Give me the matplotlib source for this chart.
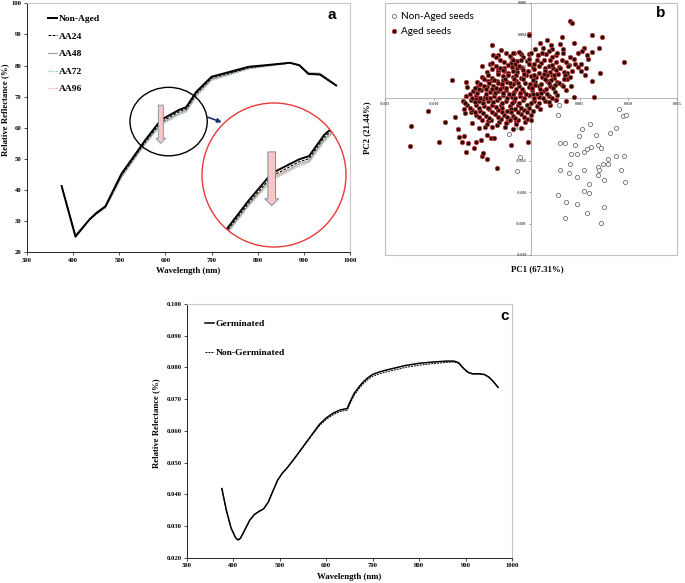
import numpy as np
import matplotlib.pyplot as plt
from matplotlib.patches import Ellipse, Circle, Rectangle
from matplotlib.ticker import FormatStrFormatter

plt.rcParams['font.family'] = ['Liberation Serif', 'DejaVu Serif']
plt.rcParams['font.weight'] = 'bold'

# ---------- panel a : mean spectra per ageing level ----------
wl_a = [375, 405, 435, 450, 470, 505, 530, 555, 590, 630, 645, 667, 700, 740, 780, 830, 870, 890, 910, 935, 970]
non_aged = [41.3, 25.0, 30.5, 32.6, 34.8, 45.3, 50.5, 55.8, 62.5, 65.8, 66.6, 71.6, 76.4, 78.0, 79.6, 80.3, 80.9, 80.1, 77.3, 77.1, 73.6]
aa24 = [41.3, 25.3, 30.4, 32.4, 34.6, 44.8, 50.0, 55.2, 61.8, 65.2, 66.0, 71.0, 76.0, 77.6, 79.3, 80.2, 80.8, 80.1, 77.4, 77.2, 73.6]
aa48 = [41.3, 25.5, 30.4, 32.3, 34.4, 44.4, 49.6, 54.8, 61.3, 64.7, 65.5, 70.5, 75.6, 77.3, 79.1, 80.1, 80.8, 80.2, 77.6, 77.4, 73.7]
aa72 = [41.2, 25.6, 30.3, 32.1, 34.2, 44.0, 49.2, 54.4, 60.8, 64.2, 65.0, 70.0, 75.2, 77.0, 78.9, 80.0, 80.8, 80.3, 77.8, 77.6, 73.8]
aa96 = [41.2, 25.8, 30.5, 32.3, 34.3, 44.2, 49.4, 54.6, 61.0, 64.4, 65.2, 70.2, 75.4, 77.2, 79.0, 80.0, 80.8, 80.2, 77.7, 77.5, 73.7]
series_a = [('Non-Aged', non_aged), ('AA24', aa24), ('AA48', aa48), ('AA72', aa72), ('AA96', aa96)]

# ---------- panel b : PCA scores (units of 1e-3) ----------
non_aged_pc = [
    (2.88, -0.47), (2.74, -1.13), (9.08, -0.75), (9.49, -1.17), (9.80, -1.11), (6.06, -1.66), (5.21, -2.00),
    (8.73, -1.94), (8.15, -2.25), (4.97, -2.46), (6.68, -2.36), (2.98, -2.89), (3.46, -2.89), (4.56, -2.99),
    (6.85, -3.04), (7.19, -3.20), (6.13, -3.16), (5.75, -3.29), (5.41, -3.44), (4.14, -3.61), (4.69, -3.59),
    (8.77, -3.69), (9.59, -3.71), (7.95, -3.92), (7.40, -4.22), (7.91, -4.20), (4.01, -4.24), (6.88, -4.43),
    (6.99, -4.58), (2.95, -4.62), (5.45, -4.58), (9.25, -4.62), (3.94, -4.77), (4.76, -5.03), (6.85, -4.92),
    (7.47, -5.24), (9.62, -5.34), (5.99, -5.49), (5.41, -5.93), (5.99, -6.08), (2.81, -6.21), (3.56, -6.63),
    (4.69, -6.74), (7.47, -6.95), (5.75, -7.35), (3.53, -7.63), (7.19, -7.97), (-2.22, -2.34), (-1.16, -3.80),
    (-1.47, -4.64)]

aged_pc = [
    # outer points
    (-0.17, 4.01), (-3.97, 3.33), (-3.94, 2.70), (-3.35, 2.70), (-1.75, 2.85), (-1.06, 2.76), (-4.18, 2.11),
    (-5.07, 2.00), (-2.05, 2.17), (-1.47, 2.34), (-3.35, 1.75), (-2.77, 1.70), (-8.15, 1.11), (-6.71, 1.01),
    (-6.61, 0.69), (-5.58, 0.69), (-3.97, 1.11), (-3.49, 1.07), (-4.55, 0.69), (-3.70, 0.48), (-5.62, -0.12),
    (-5.20, -0.05), (-4.90, -0.10),
    (4.01, 4.88), (4.21, 4.71), (-0.20, 3.97), (3.15, 3.86), (6.27, 3.95), (7.26, 3.86), (1.61, 3.65),
    (4.42, 3.44), (0.93, 3.44), (2.06, 3.33), (2.98, 3.37), (6.95, 3.16), (1.23, 3.12), (2.19, 3.06),
    (5.48, 3.12), (5.21, 2.97), (6.23, 2.91), (4.86, 2.85), (3.25, 2.80), (1.51, 2.76), (5.72, 2.70),
    (0.75, 2.70), (2.57, 2.70), (4.38, 2.42), (5.86, 2.42), (9.52, 2.28), (3.60, 2.28), (3.91, 2.06),
    (5.10, 2.13), (2.88, 1.96), (2.30, 1.85), (5.65, 1.85), (5.14, 1.70), (7.09, 1.54), (5.55, 1.43),
    (3.67, 1.54), (2.12, 1.43), (1.44, 1.64), (3.67, 1.18), (6.23, 1.05), (2.64, 1.01), (3.15, 0.79),
    (4.11, 0.73), (2.12, 0.65), (3.56, 0.48), (2.71, 0.16), (3.60, -0.20), (6.44, 0.01), (4.45, 0.05),
    (-12.36, -1.79), (-12.43, -3.08), (-10.55, -0.86), (-9.45, -2.80), (-8.84, -1.53), (-7.81, -1.21),
    (-7.47, -2.02), (-7.40, -2.49), (-6.85, -2.42), (-7.12, -2.85), (-6.68, -3.44), (-6.44, -2.87),
    (-6.78, -1.00), (-6.85, -0.73), (-6.16, -0.90), (-6.03, -1.64), (-5.82, -3.18), (-5.65, -2.85),
    (-5.34, -1.96), (-5.14, -2.70), (-5.07, -3.69), (-4.90, -3.54), (-4.55, -3.90), (-4.52, -2.38),
    (-4.11, -2.55), (-3.77, -2.59), (-4.73, -1.85), (-4.38, -1.49), (-4.04, -1.85), (-3.53, -4.45),
    (-2.05, -3.02), (-0.34, -2.80), (-2.67, -1.89), (-1.81, -2.00), (-1.03, -1.91), (-3.25, -1.58),
    (-2.50, -1.53), (-2.26, -1.36), (-1.57, -1.49), (-0.62, -1.53), (-0.03, -1.45),
    # dense core
    (-3.1, 3.0), (-1.2, 2.9), (0.4, 3.1), (1.8, 2.95), (3.3, 3.05),
    (-3.6, 2.6), (-2.2, 2.65), (-0.8, 2.55), (0.7, 2.7), (2.2, 2.6), (4.0, 2.55),
    (-4.0, 2.2), (-2.8, 2.25), (-1.6, 2.15), (-0.4, 2.3), (1.0, 2.2), (2.6, 2.25), (4.5, 2.15),
    (-3.2, 1.9), (-2.0, 1.95), (-0.9, 1.85), (0.2, 1.95), (1.4, 1.9), (3.0, 1.85), (4.8, 1.95),
    (-4.5, 1.6), (-3.4, 1.65), (-2.4, 1.55), (-1.4, 1.6), (-0.3, 1.7), (0.8, 1.55), (2.0, 1.65), (3.4, 1.6),
    (-5.0, 1.3), (-4.0, 1.25), (-2.9, 1.35), (-1.9, 1.3), (-1.0, 1.25), (0.0, 1.35), (1.1, 1.3), (2.4, 1.25), (4.0, 1.3),
    (-5.5, 1.0), (-4.4, 1.05), (-3.4, 0.95), (-2.5, 1.0), (-1.5, 1.05), (-0.6, 0.95), (0.4, 1.0), (1.6, 1.05), (2.9, 0.95),
    (-4.8, 0.7), (-3.9, 0.75), (-3.0, 0.65), (-2.1, 0.7), (-1.2, 0.75), (-0.2, 0.65), (0.8, 0.7), (2.0, 0.75), (3.3, 0.7),
    (-6.0, 0.4), (-5.1, 0.45), (-4.2, 0.35), (-3.4, 0.4), (-2.6, 0.45), (-1.7, 0.35), (-0.8, 0.4), (0.1, 0.45), (1.2, 0.4), (2.5, 0.35),
    (-6.7, 0.1), (-5.7, 0.15), (-4.7, 0.05), (-3.8, 0.1), (-2.9, 0.15), (-2.0, 0.05), (-1.1, 0.1), (-0.2, 0.15), (0.8, 0.05), (1.8, 0.1),
    (-7.0, -0.2), (-6.2, -0.15), (-5.3, -0.25), (-4.4, -0.2), (-3.5, -0.15), (-2.6, -0.25), (-1.7, -0.2), (-0.8, -0.15), (0.3, -0.25), (1.4, -0.2), (2.6, -0.15),
    (-6.6, -0.5), (-5.7, -0.45), (-4.8, -0.55), (-4.0, -0.5), (-3.1, -0.45), (-2.2, -0.55), (-1.3, -0.5), (-0.4, -0.45), (0.6, -0.55), (2.0, -0.5),
    (-6.1, -0.8), (-5.2, -0.85), (-4.3, -0.75), (-3.4, -0.8), (-2.5, -0.85), (-1.6, -0.75), (-0.7, -0.8), (0.2, -0.85),
    (-5.6, -1.1), (-4.6, -1.15), (-3.7, -1.05), (-2.8, -1.1), (-1.9, -1.15), (-1.0, -1.05), (0.0, -1.1),
    (-5.0, -1.4), (-4.1, -1.45), (-3.1, -1.35), (-2.2, -1.4), (-1.3, -1.45), (-0.4, -1.35),
    (-4.5, -1.7), (-3.5, -1.75), (-2.6, -1.65), (-1.5, -1.7),
    (-2.6, 2.8), (-0.2, 2.75), (1.3, 2.4), (-1.0, 2.4), (0.3, 2.1), (-2.0, 2.45), (1.8, 2.0), (-0.5, 1.4),
    (0.5, 1.3), (-1.4, 1.9), (-2.8, 1.85), (1.6, 1.45), (2.8, 1.5), (-0.1, 0.85), (1.0, 0.85), (-1.9, 0.85),
    (-2.9, 1.1), (0.6, 0.25), (-0.5, 0.25), (-1.5, 0.55), (-2.3, 0.25), (-3.2, 0.55), (-4.0, 0.55), (1.5, 0.55),
    (-3.0, -0.65), (-2.0, -0.35), (-1.0, -0.65), (0.0, -0.35), (-4.5, -0.05), (-5.3, 0.55),
    (-1.9, 2.8), (0.0, 2.85), (1.1, 2.8), (2.7, 2.85),
    (-3.2, 2.4), (-1.8, 2.35), (-0.2, 2.45), (0.6, 2.4), (2.0, 2.35), (3.2, 2.4),
    (-3.6, 2.0), (-2.4, 2.05), (-1.2, 2.0), (-0.2, 2.1), (0.8, 2.0), (2.2, 2.05), (3.8, 2.0),
    (-4.0, 1.8), (-2.9, 1.75), (-1.9, 1.7), (-0.8, 1.75), (0.3, 1.8), (1.4, 1.7), (2.6, 1.75), (4.2, 1.7),
    (-4.4, 1.45), (-3.4, 1.5), (-2.4, 1.4), (-1.5, 1.45), (-0.7, 1.5), (0.3, 1.45), (1.3, 1.5), (2.4, 1.45), (3.5, 1.4),
    (-4.8, 1.15), (-3.8, 1.1), (-2.7, 1.2), (-1.7, 1.15), (-0.8, 1.15), (0.2, 1.1), (1.4, 1.15), (2.1, 1.1), (3.4, 1.15),
    (-5.2, 0.85), (-4.3, 0.9), (-3.0, 0.85), (-2.2, 0.9), (-1.3, 0.9), (0.4, 0.8), (1.8, 0.9), (2.5, 0.8),
    (-5.8, 0.6), (-4.6, 0.55), (-3.6, 0.6), (-2.6, 0.6), (-0.9, 0.55), (0.1, 0.6), (0.9, 0.55), (2.3, 0.6),
    (-6.3, 0.25), (-5.5, 0.3), (-4.6, 0.25), (-3.7, 0.3), (-2.9, 0.3), (-1.8, 0.2), (-1.1, 0.3), (0.2, 0.25), (1.0, 0.3), (1.6, 0.25),
    (-6.1, 0.0), (-5.2, -0.05), (-4.2, 0.0), (-3.3, -0.05), (-2.5, 0.0), (-1.6, -0.05), (-0.7, 0.0), (0.3, -0.05), (1.2, 0.0), (2.2, 0.0),
    (-6.8, -0.35), (-5.8, -0.3), (-4.9, -0.35), (-3.9, -0.3), (-3.0, -0.35), (-1.2, -0.35), (0.8, -0.35), (1.8, -0.3),
    (-6.3, -0.65), (-5.3, -0.65), (-4.4, -0.65), (-3.6, -0.6), (-2.1, -0.7), (-0.2, -0.65), (0.9, -0.7),
    (-5.8, -0.95), (-4.9, -1.0), (-4.0, -0.95), (-3.0, -0.95), (-2.1, -0.95), (-1.3, -0.9), (-0.4, -0.95),
    (-5.3, -1.25), (-4.3, -1.3), (-3.4, -1.25), (-2.5, -1.25), (-1.6, -1.3), (-0.7, -1.25)]

# ---------- panel c : germinated vs non-germinated ----------
wl_c = [375, 385, 395, 405, 410, 415, 425, 435, 445, 455, 465, 475, 485, 495, 505, 515, 530, 550, 570,
        585, 600, 615, 630, 640, 645, 650, 660, 670, 680, 690, 700, 715, 730, 750, 770, 800, 830, 860,
        875, 885, 895, 905, 915, 930, 940, 950, 960, 970]
germ = [0.0418, 0.0348, 0.0293, 0.0262, 0.0256, 0.0261, 0.0289, 0.0318, 0.0336, 0.0346, 0.0354, 0.0375,
        0.0410, 0.0444, 0.0466, 0.0482, 0.0510, 0.0550, 0.0590,
        0.0620, 0.0641, 0.0656, 0.0666, 0.0669, 0.0670, 0.0688, 0.0718, 0.0738, 0.0755, 0.0768, 0.0778,
        0.0786, 0.0792, 0.0799, 0.0806, 0.0813, 0.0817, 0.0820, 0.0820, 0.0815, 0.0798, 0.0785, 0.0780,
        0.0780, 0.0778, 0.0770, 0.0755, 0.0737]
non_germ = [0.0418, 0.0348, 0.0293, 0.0262, 0.0256, 0.0261, 0.0289, 0.0318, 0.0336, 0.0346, 0.0354, 0.0375,
            0.0410, 0.0444, 0.0466, 0.0482, 0.0510, 0.0549, 0.0588,
            0.0616, 0.0636, 0.0651, 0.0661, 0.0664, 0.0665, 0.0682, 0.0712, 0.0732, 0.0749, 0.0762, 0.0772,
            0.0780, 0.0786, 0.0793, 0.0800, 0.0807, 0.0812, 0.0816, 0.0817, 0.0813, 0.0797, 0.0784, 0.0779,
            0.0779, 0.0777, 0.0769, 0.0755, 0.0737]

W, H = 685, 583
fig = plt.figure(figsize=(W / 100, H / 100), dpi=100)


def box(l, t, r, b):
    return [l / W, 1 - b / H, (r - l) / W, (b - t) / H]


def excel_spines(ax):
    for s in ['left', 'bottom']:
        ax.spines[s].set_linewidth(0.6)
    for s in ['top', 'right']:
        ax.spines[s].set_color('#c8c8c8')
        ax.spines[s].set_linewidth(0.8)
    ax.tick_params(labelsize=4.8, length=2, width=0.5, direction='out', pad=2)


a_styles = {
    'Non-Aged': dict(color='black', lw=1.4, ls='-'),
    'AA24': dict(color='black', lw=0.8, ls=(0, (2.5, 1.2))),
    'AA48': dict(color='#a0a0a0', lw=0.8, ls='-'),
    'AA72': dict(color='#7fd0a0', lw=0.9, ls=(0, (1, 1))),
    'AA96': dict(color='#f0a8a0', lw=0.9, ls=(0, (1, 1))),
}

# panel a
ax_a = fig.add_axes(box(27, 3.3, 350, 252.3))
for name, vals in series_a[::-1]:
    ax_a.plot(wl_a, vals, label=name, **a_styles[name])
ax_a.set_xlim(300, 1000)
ax_a.set_ylim(20, 100)
ax_a.set_xticks(range(300, 1001, 100))
ax_a.set_yticks(range(20, 101, 10))
excel_spines(ax_a)
h, l = ax_a.get_legend_handles_labels()
ax_a.legend(h[::-1], l[::-1], loc='upper left', bbox_to_anchor=(0.065, 0.955), frameon=False,
            handlelength=1.0, handletextpad=0.15, labelspacing=0.95, borderpad=0, borderaxespad=0,
            prop=dict(family='Liberation Serif', weight='bold', size=6.8))
ax_a.add_patch(Ellipse((606.9, 62.0), 167.4, 22.0, fill=False, ec='black', lw=1.0, zorder=4))
ax_a.annotate('', xy=(590, 55), xytext=(590, 67.3),
              arrowprops=dict(arrowstyle='simple,head_length=0.45,head_width=0.9,tail_width=0.45',
                              mutation_scale=8, fc='#f7c6c7', ec='#7a8fa8', lw=0.6, shrinkA=0, shrinkB=0),
              zorder=5)
ax_a.annotate('', xy=(722, 61.8), xytext=(692, 63.4),
              arrowprops=dict(arrowstyle='-|>', color='#1f2f6b', lw=1.2, mutation_scale=6,
                              shrinkA=0, shrinkB=0))
fig.text(332 / W, 1 - 15 / H, 'a', family='Liberation Sans', weight='bold', size=11, ha='center', va='center')
fig.text(5 / W, 1 - 110 / H, 'Relative Reflectance (%)', rotation=90, size=6.3, ha='center', va='center')
fig.text(188 / W, 1 - 270.7 / H, 'Wavelength (nm)', size=6.3, ha='center', va='center')

# zoom circle
ax_in = fig.add_axes(box(202, 103, 346, 247))
ax_in.set_xlim(487.5, 699.3)
ax_in.set_ylim(44.95, 79.24)
ax_in.axis('off')
disk = Circle((0.5, 0.5), 0.5, transform=ax_in.transAxes, fc='white', ec='none', zorder=0)
ax_in.add_patch(disk)
for name, vals in series_a[::-1]:
    ln, = ax_in.plot(wl_a, vals, zorder=2, **a_styles[name])
    ln.set_clip_path(disk)
ax_in.add_patch(Circle((0.5, 0.5), 0.5, transform=ax_in.transAxes, fill=False, ec='#e83a3a', lw=1.0,
                       zorder=6, clip_on=False))
ax_in.annotate('', xy=(590, 54.8), xytext=(590, 67.6),
               arrowprops=dict(arrowstyle='simple,head_length=0.45,head_width=0.9,tail_width=0.5',
                               mutation_scale=11, fc='#f7c6c7', ec='#7a8fa8', lw=0.7, shrinkA=0, shrinkB=0),
               zorder=5)

# panel b
ax_b = fig.add_axes(box(385, 3, 677, 255))
nx = [p[0] * 1e-3 for p in non_aged_pc]
ny = [p[1] * 1e-3 for p in non_aged_pc]
gx = [p[0] * 1e-3 for p in aged_pc]
gy = [p[1] * 1e-3 for p in aged_pc]
ax_b.scatter(nx, ny, s=9, facecolors='white', edgecolors='#555555', linewidths=0.5, zorder=3,
             label='Non-Aged seeds')
ax_b.scatter(gx, gy, s=10, facecolors='#2a0808', edgecolors='#b5403a', linewidths=0.6, zorder=3,
             label='Aged seeds')
ax_b.set_xlim(-0.015, 0.015)
ax_b.set_ylim(-0.010, 0.006)
ax_b.spines['left'].set_position(('data', 0))
ax_b.spines['bottom'].set_position(('data', 0))
ax_b.spines['top'].set_visible(False)
ax_b.spines['right'].set_visible(False)
for s in ['left', 'bottom']:
    ax_b.spines[s].set_color('#b8b8b8')
    ax_b.spines[s].set_linewidth(0.7)
ax_b.add_patch(Rectangle((0, 0), 1, 1, transform=ax_b.transAxes, fill=False, ec='#c0c0c0', lw=0.8,
                         clip_on=False))
ax_b.set_xticks([-0.015, -0.010, -0.005, 0.005, 0.010, 0.015])
ax_b.set_yticks([-0.010, -0.008, -0.006, -0.004, -0.002, 0.002, 0.004, 0.006])
ax_b.xaxis.set_major_formatter(FormatStrFormatter('%.3f'))
ax_b.yaxis.set_major_formatter(FormatStrFormatter('%.3f'))
ax_b.tick_params(labelsize=3, colors='#505050', length=1.5, width=0.4, pad=1.5)
ax_b.legend(loc='upper left', bbox_to_anchor=(0.02, 0.965), frameon=False, handlelength=0.6,
            handletextpad=0.4, labelspacing=0.6, borderpad=0, borderaxespad=0,
            prop=dict(family='Lato', weight='normal', size=7.2))
fig.text(661 / W, 1 - 13 / H, 'b', family='Liberation Sans', weight='bold', size=11, ha='center', va='center')
fig.text(537 / W, 1 - 269 / H, 'PC1 (67.31%)', size=6.3, ha='center', va='center')
fig.text(367 / W, 1 - 128 / H, 'PC2 (21.44%)', size=6.3, rotation=90, ha='center', va='center')

# panel c
ax_c = fig.add_axes(box(187, 304, 512, 557.7))
ax_c.plot(wl_c, germ, color='black', lw=1.1, label='Germinated')
ax_c.plot(wl_c, non_germ, color='black', lw=0.7, ls=(0, (2, 1)), label='Non-Germinated')
ax_c.set_xlim(300, 1000)
ax_c.set_ylim(0.020, 0.100)
ax_c.set_xticks(range(300, 1001, 100))
ax_c.set_yticks(np.arange(0.020, 0.1001, 0.010))
ax_c.yaxis.set_major_formatter(FormatStrFormatter('%.3f'))
excel_spines(ax_c)
ax_c.legend(loc='upper left', bbox_to_anchor=(0.055, 0.94), frameon=False, handlelength=1.0,
            handletextpad=0.15, labelspacing=2.2, borderpad=0, borderaxespad=0,
            prop=dict(family='Liberation Serif', weight='bold', size=6.8))
fig.text(505 / W, 1 - 316 / H, 'c', family='Liberation Sans', weight='bold', size=11, ha='center', va='center')
fig.text(156 / W, 1 - 423 / H, 'Relative Relectance (%)', rotation=90, size=6.3, ha='center', va='center')
fig.text(349 / W, 1 - 577 / H, 'Wavelength (nm)', size=6.3, ha='center', va='center')

fig.savefig('out.png', dpi=100)
